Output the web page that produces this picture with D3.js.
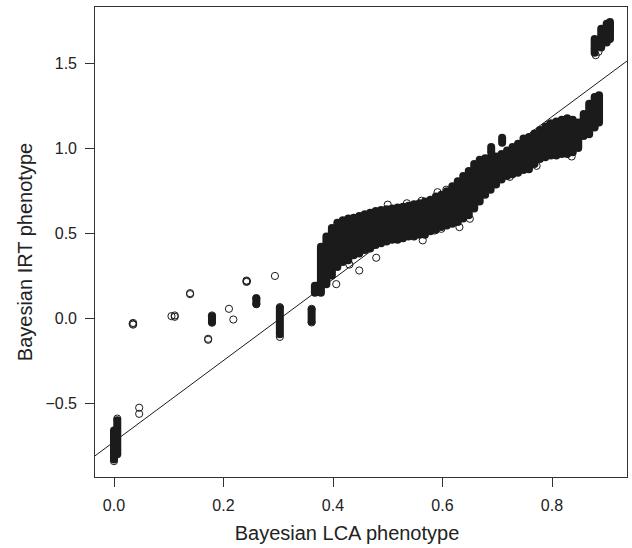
<!DOCTYPE html>
<html>
<head>
<meta charset="utf-8">
<script src="https://cdn.jsdelivr.net/npm/d3@7"></script>
<style>
  html, body { margin: 0; padding: 0; background: #fff; }
  #chart { width: 632px; height: 548px; }
  text { font-family: "Liberation Sans", Arial, Helvetica, sans-serif; fill: #222; }
</style>
</head>
<body>
<div id="chart"></div>
<script>
// axis ticks
const lcaTicks = [0, 0.2, 0.4, 0.6, 0.8];
const irtTicks = [-0.5, 0, 0.5, 1.0, 1.5];

// fitted line (abline)
const fitIntercept = -0.726;
const fitSlope = 2.387;

// vertical streaks of overlapping points: LCA value, lowest and highest IRT value
const streakX = [
  0.0, 0.006, 0.179, 0.26, 0.303, 0.361,
  0.367, 0.378, 0.388, 0.398, 0.408, 0.418, 0.428, 0.438, 0.448, 0.458,
  0.468, 0.478, 0.488, 0.498, 0.508, 0.518, 0.528, 0.538, 0.548, 0.558,
  0.568, 0.578, 0.588, 0.598, 0.608, 0.618, 0.628, 0.638, 0.648, 0.658,
  0.668, 0.678, 0.688, 0.698, 0.708, 0.718, 0.728, 0.738, 0.748, 0.758,
  0.768, 0.778, 0.788, 0.798, 0.808, 0.818, 0.828, 0.838, 0.848, 0.858,
  0.868, 0.878, 0.886,
  0.689, 0.709,
  0.878, 0.89, 0.90, 0.906
];
const streakLo = [
  -0.83, -0.80, -0.023, 0.085, -0.095, -0.02,
  0.15, 0.15, 0.20, 0.25, 0.30, 0.33, 0.34, 0.37, 0.38, 0.40,
  0.41, 0.43, 0.44, 0.45, 0.46, 0.46, 0.47, 0.48, 0.48, 0.49,
  0.49, 0.51, 0.52, 0.535, 0.545, 0.555, 0.565, 0.585, 0.605, 0.645,
  0.685, 0.725, 0.755, 0.785, 0.815, 0.835, 0.845, 0.855, 0.87, 0.875,
  0.905, 0.935, 0.945, 0.955, 0.955, 0.965, 0.965, 0.975, 1.0, 1.07,
  1.08, 1.12, 1.15,
  0.975, 1.03,
  1.56, 1.59, 1.62, 1.64
];
const streakHi = [
  -0.66, -0.60, 0.012, 0.115, 0.06, 0.05,
  0.19, 0.42, 0.48, 0.53, 0.56, 0.575, 0.585, 0.59, 0.60, 0.61,
  0.62, 0.63, 0.635, 0.64, 0.645, 0.65, 0.655, 0.66, 0.67, 0.675,
  0.685, 0.695, 0.715, 0.725, 0.745, 0.775, 0.805, 0.835, 0.865, 0.905,
  0.93, 0.94, 0.945, 0.95, 0.965, 0.985, 1.005, 1.025, 1.055, 1.065,
  1.085, 1.105, 1.125, 1.145, 1.155, 1.165, 1.175, 1.165, 1.15, 1.20,
  1.26, 1.30, 1.31,
  1.005, 1.06,
  1.64, 1.70, 1.73, 1.74
];

// single points (open circles); repeated values overlap into heavier rings
const pointX = [
  0.035, 0.035, 0.034, 0.046, 0.046, 0.105, 0.111, 0.111, 0.139, 0.139,
  0.172, 0.172, 0.179, 0.179, 0.21, 0.218, 0.242, 0.242, 0.243, 0.26, 0.26,
  0.294, 0.303, 0.303, 0.361, 0.361, 0.0, 0.006,
  0.37, 0.406, 0.43, 0.448, 0.479, 0.522, 0.564, 0.586, 0.598, 0.631, 0.65,
  0.418, 0.455, 0.50, 0.535, 0.562, 0.591, 0.607, 0.723, 0.753,
  0.88, 0.885, 0.863, 0.795, 0.772, 0.836
];
const pointY = [
  -0.028, -0.038, -0.033, -0.526, -0.562, 0.012, 0.016, 0.008, 0.147, 0.141,
  -0.121, -0.127, 0.016, -0.027, 0.055, -0.008, 0.221, 0.213, 0.217, 0.118, 0.082,
  0.248, -0.11, 0.065, -0.025, 0.055, -0.84, -0.59,
  0.19, 0.20, 0.315, 0.28, 0.355, 0.468, 0.457, 0.515, 0.525, 0.535, 0.584,
  0.57, 0.59, 0.667, 0.675, 0.69, 0.74, 0.755, 0.83, 0.887,
  1.545, 1.565, 1.10, 1.14, 0.895, 0.95
];

const W = 632, H = 548;
const plotL = 94.5, plotR = 627.5, plotT = 6.5, plotB = 477.5;
const ink = "#1b1b1b";

const x = d3.scaleLinear().domain([-0.0356, 0.938]).range([plotL, plotR]);
const y = d3.scaleLinear().domain([-0.936, 1.831]).range([plotB, plotT]);

const svg = d3.select("#chart").append("svg")
  .attr("width", W).attr("height", H)
  .attr("viewBox", `0 0 ${W} ${H}`);

svg.append("defs").append("clipPath").attr("id", "clip")
  .append("rect")
  .attr("x", plotL).attr("y", plotT)
  .attr("width", plotR - plotL).attr("height", plotB - plotT);

const plot = svg.append("g").attr("clip-path", "url(#clip)");

// streaks: overlapping circles drawn as round-capped pills
const streaks = streakX.map((v, i) => ({ x: v, lo: streakLo[i], hi: streakHi[i] }));
plot.selectAll("line.streak")
  .data(streaks)
  .enter()
  .append("line")
  .attr("class", "streak")
  .attr("x1", (d) => x(d.x)).attr("x2", (d) => x(d.x))
  .attr("y1", (d) => y(d.lo)).attr("y2", (d) => y(d.hi))
  .attr("stroke", ink)
  .attr("stroke-width", 8)
  .attr("stroke-linecap", "round");

const pts = pointX.map((v, i) => ({ x: v, y: pointY[i] }));
plot.selectAll("circle.pt")
  .data(pts)
  .enter()
  .append("circle")
  .attr("class", "pt")
  .attr("cx", (d) => x(d.x))
  .attr("cy", (d) => y(d.y))
  .attr("r", 3.6)
  .attr("fill", "none")
  .attr("stroke", ink)
  .attr("stroke-width", 1);

// fitted line across the plot region
const xd = x.domain();
plot.append("line")
  .attr("x1", x(xd[0])).attr("y1", y(fitIntercept + fitSlope * xd[0]))
  .attr("x2", x(xd[1])).attr("y2", y(fitIntercept + fitSlope * xd[1]))
  .attr("stroke", ink)
  .attr("stroke-width", 1);

// box
svg.append("rect")
  .attr("x", plotL).attr("y", plotT)
  .attr("width", plotR - plotL).attr("height", plotB - plotT)
  .attr("fill", "none")
  .attr("stroke", "#333")
  .attr("stroke-width", 1);

// x axis
const xAxis = svg.append("g");
xAxis.selectAll("line")
  .data(lcaTicks)
  .enter()
  .append("line")
  .attr("x1", (d) => Math.round(x(d)) + 0.5).attr("x2", (d) => Math.round(x(d)) + 0.5)
  .attr("y1", plotB).attr("y2", plotB + 9.5)
  .attr("stroke", "#333");
xAxis.selectAll("text")
  .data(lcaTicks)
  .enter()
  .append("text")
  .attr("x", (d) => x(d))
  .attr("y", 511)
  .attr("text-anchor", "middle")
  .style("font-size", "16px")
  .text((d) => d3.format(".1f")(d));

// y axis
const yAxis = svg.append("g");
yAxis.selectAll("line")
  .data(irtTicks)
  .enter()
  .append("line")
  .attr("x1", plotL - 9.5).attr("x2", plotL)
  .attr("y1", (d) => Math.round(y(d)) + 0.5).attr("y2", (d) => Math.round(y(d)) + 0.5)
  .attr("stroke", "#333");
yAxis.selectAll("text")
  .data(irtTicks)
  .enter()
  .append("text")
  .attr("x", 77)
  .attr("y", (d) => y(d))
  .attr("dy", "0.36em")
  .attr("text-anchor", "end")
  .style("font-size", "16px")
  .text((d) => d3.format(".1f")(d).replace("-", "\u2212"));

// axis titles
svg.append("text")
  .attr("x", 347)
  .attr("y", 540)
  .attr("text-anchor", "middle")
  .style("font-size", "20px")
  .text("Bayesian LCA phenotype");

svg.append("text")
  .attr("transform", "translate(32,252) rotate(-90)")
  .attr("text-anchor", "middle")
  .style("font-size", "20px")
  .text("Bayesian IRT phenotype");
</script>
</body>
</html>
